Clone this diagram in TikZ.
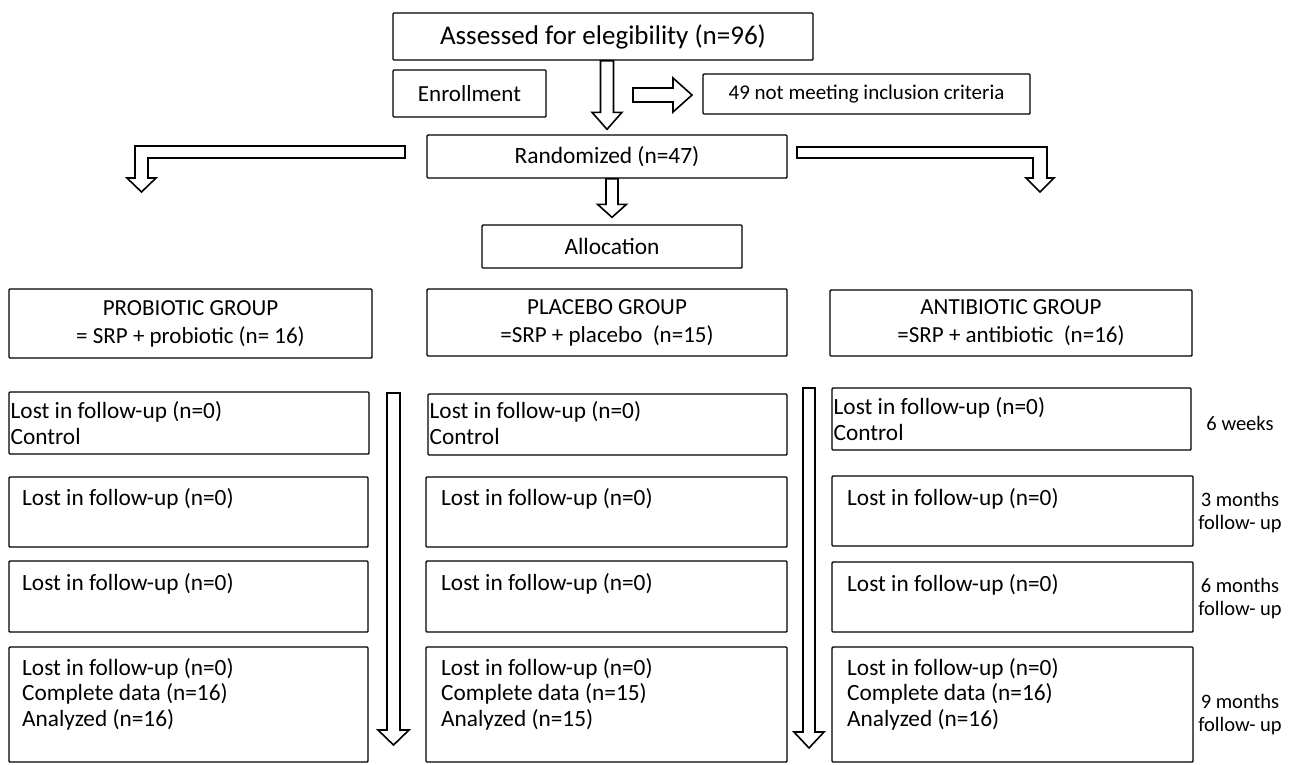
\documentclass[tikz,border=0pt]{standalone}
\usepackage{fontspec}
\setmainfont{Carlito}
\usetikzlibrary{fit,calc}
\tikzset{
  bx/.style={draw=black, line width=1.4pt, inner sep=0pt, rounded corners=1pt},
  blk/.style={draw=black, line width=1.6pt, fill=white, line join=miter},
  ltxt/.style={inner sep=0pt, anchor=west, align=left, font=\fontsize{23.3}{25.5}\selectfont},
  ctxt/.style={inner sep=0pt, align=center},
  gtxt/.style={inner sep=0pt, align=center, font=\fontsize{23}{28}\selectfont},
  ttxt/.style={inner sep=0pt, align=center, font=\fontsize{20.5}{23}\selectfont},
}
\newcommand\mkbox[5]{\path (#2,#3) coordinate (#1-a) (#4,#5) coordinate (#1-b); \node[bx, fit=(#1-a)(#1-b)] (#1) {};}
\newcommand\vblock[5]{\draw[blk] let \p1=(#1), \p2=(#2) in
  ({\x2-#3pt},\y1) -- ({\x2-#3pt},{\y2+#5pt}) -- ({\x2-#4pt},{\y2+#5pt}) -- (\x2,\y2)
  -- ({\x2+#4pt},{\y2+#5pt}) -- ({\x2+#3pt},{\y2+#5pt}) -- ({\x2+#3pt},\y1) -- cycle;}
\begin{document}
\begin{tikzpicture}[x=1pt,y=-1pt]
\useasboundingbox[fill=white] (0,0) rectangle (1301,764);
% top part
\mkbox{assess}{393}{13}{813}{60}
\node[ctxt, font=\fontsize{27}{30}\selectfont] (assesst) at (assess) {Assessed for elegibility (n=96)};
\mkbox{enrol}{393}{70}{546}{117}
\node[ctxt, font=\fontsize{23}{26}\selectfont] (enrolt) at (enrol) {Enrollment};
\mkbox{excl}{703}{74}{1030}{114}
\node[ctxt, font=\fontsize{21}{24}\selectfont] (exclt) at (excl) {49 not meeting inclusion criteria};
\mkbox{rand}{427}{135}{787}{178}
\node[ctxt, font=\fontsize{23.4}{26}\selectfont] (randt) at (rand) {Randomized (n=47)};
\mkbox{alloc}{482}{225}{742}{268}
\node[ctxt, font=\fontsize{23.4}{26}\selectfont] (alloct) at (alloc) {Allocation};
% groups
\mkbox{gp}{9}{289}{372}{358}
\node[gtxt] (gpt) at (gp) {PROBIOTIC GROUP\\= SRP + probiotic (n= 16)};
\mkbox{gq}{427}{289}{787}{356}
\node[gtxt] (gqt) at (gq) {PLACEBO GROUP\\=SRP + placebo\ \ (n=15)};
\mkbox{ga}{830}{290}{1192}{356}
\node[gtxt] (gat) at (ga) {ANTIBIOTIC GROUP\\=SRP + antibiotic\ \ (n=16)};
% rows: probiotic
\mkbox{p1}{9}{392}{369}{454}
\mkbox{p2}{9}{477}{368}{547}
\mkbox{p3}{9}{561}{368}{632}
\mkbox{p4}{9}{647}{368}{762}
\node[ltxt] (p1t) at (10.5,423) {Lost in follow-up (n=0)\\Control};
\node[ltxt] (p2t) at (22,499) {Lost in follow-up (n=0)};
\node[ltxt] (p3t) at (22,584) {Lost in follow-up (n=0)};
\node[ltxt] (p4t) at (22,694) {Lost in follow-up (n=0)\\Complete data (n=16)\\Analyzed (n=16)};
% rows: placebo
\mkbox{q1}{428}{394}{787}{455}
\mkbox{q2}{426}{477}{787}{547}
\mkbox{q3}{426}{561}{787}{632}
\mkbox{q4}{426}{647}{787}{762}
\node[ltxt] (q1t) at (429.5,423) {Lost in follow-up (n=0)\\Control};
\node[ltxt] (q2t) at (441,499) {Lost in follow-up (n=0)};
\node[ltxt] (q3t) at (441,584) {Lost in follow-up (n=0)};
\node[ltxt] (q4t) at (441,694) {Lost in follow-up (n=0)\\Complete data (n=15)\\Analyzed (n=15)};
% rows: antibiotic
\mkbox{a1}{832}{388}{1191}{450}
\mkbox{a2}{832}{476}{1193}{546}
\mkbox{a3}{832}{562}{1193}{632}
\mkbox{a4}{832}{647}{1193}{762}
\node[ltxt] (a1t) at (833.5,419) {Lost in follow-up (n=0)\\Control};
\node[ltxt] (a2t) at (847,499) {Lost in follow-up (n=0)};
\node[ltxt] (a3t) at (847,585) {Lost in follow-up (n=0)};
\node[ltxt] (a4t) at (847,694) {Lost in follow-up (n=0)\\Complete data (n=16)\\Analyzed (n=16)};
% time labels
\node[ttxt] (t1) at (1240,423) {6 weeks};
\node[ttxt] (t2) at (1240,513) {3 months\\follow- up};
\node[ttxt] (t3) at (1240,599) {6 months\\follow- up};
\node[ttxt] (t4) at (1240,715) {9 months\\follow- up};
% block arrows
\vblock{assess.south -| rand.north}{[yshift=5pt]rand.north}{6.5}{15}{17}
\vblock{rand.south}{[yshift=7pt]alloc.north}{6}{14.5}{13}
\draw[blk] (633,88) -- (673,88) -- (673,78) -- (692,95) -- (673,112) -- (673,102) -- (633,102) -- cycle;
\draw[blk] (405,146) -- (135,146) -- (135,178) -- (127,178) -- (141.5,192) -- (156,178) -- (148,178) -- (148,158) -- (405,158) -- cycle;
\draw[blk] (797,147) -- (1047,147) -- (1047,178) -- (1054,178) -- (1040,192) -- (1026,178) -- (1033,178) -- (1033,158) -- (797,158) -- cycle;
\coordinate (l1s) at (393.5,393);
\coordinate (l1e) at (393.5,745);
\coordinate (l2s) at (809,388);
\coordinate (l2e) at (809,748);
\vblock{l1s}{l1e}{6.5}{15.5}{15}
\vblock{l2s}{l2e}{6}{15}{16}
\end{tikzpicture}
\end{document}
